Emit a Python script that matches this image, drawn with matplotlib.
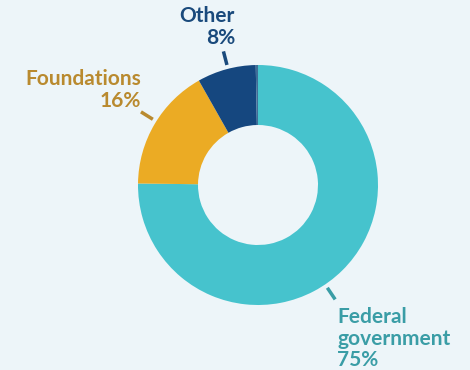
import numpy as np
import matplotlib.pyplot as plt

# Data
categories = ["Federal\ngovernment", "Foundations", "Other", ""]
values = [75.2, 16.6, 7.9, 0.3]
pct_labels = ["75%", "16%", "8%", ""]
colors = ["#46C3CD", "#EBAB24", "#15477F", "#3E6E98"]
text_colors = ["#3A9DA6", "#B98A2F", "#1A4A7C"]

bg = "#EDF5F9"
fig = plt.figure(figsize=(4.7, 3.7), dpi=100, facecolor=bg)
ax = fig.add_axes([0, 0, 1, 1])
ax.set_facecolor(bg)
ax.set_xlim(0, 470)
ax.set_ylim(0, 370)
ax.set_aspect("equal")
ax.axis("off")

cx, cy, R = 258, 185, 120
ax.pie(values, colors=colors, startangle=90, counterclock=False,
       center=(cx, cy), radius=R,
       wedgeprops=dict(width=60, linewidth=0))
ax.set_xlim(0, 470)
ax.set_ylim(0, 370)

font = "Lato"
# leader lines (angle in degrees)
leader_angles = [-56, 148, 104.5]
for ang, col in zip(leader_angles, text_colors):
    a = np.deg2rad(ang)
    r0, r1 = 124, 138
    ax.plot([cx + r0 * np.cos(a), cx + r1 * np.cos(a)],
            [cy + r0 * np.sin(a), cy + r1 * np.sin(a)],
            color=col, lw=2.5, solid_capstyle="butt")

fs = 15
# Federal government
ax.text(337, 370 - 307, categories[0] + "\n" + pct_labels[0], ha="left", va="top",
        fontsize=fs, fontweight="bold", color=text_colors[0], family=font,
        linespacing=1.1)
# Foundations
ax.text(141, 370 - 69, categories[1] + "\n" + pct_labels[1], ha="right", va="top",
        fontsize=fs, fontweight="bold", color=text_colors[1], family=font,
        linespacing=1.15, multialignment="right")
# Other
ax.text(235, 370 - 6, categories[2] + "\n" + pct_labels[2], ha="right", va="top",
        fontsize=fs, fontweight="bold", color=text_colors[2], family=font,
        linespacing=1.1, multialignment="right")

fig.savefig("out.png", dpi=100, facecolor=bg)
